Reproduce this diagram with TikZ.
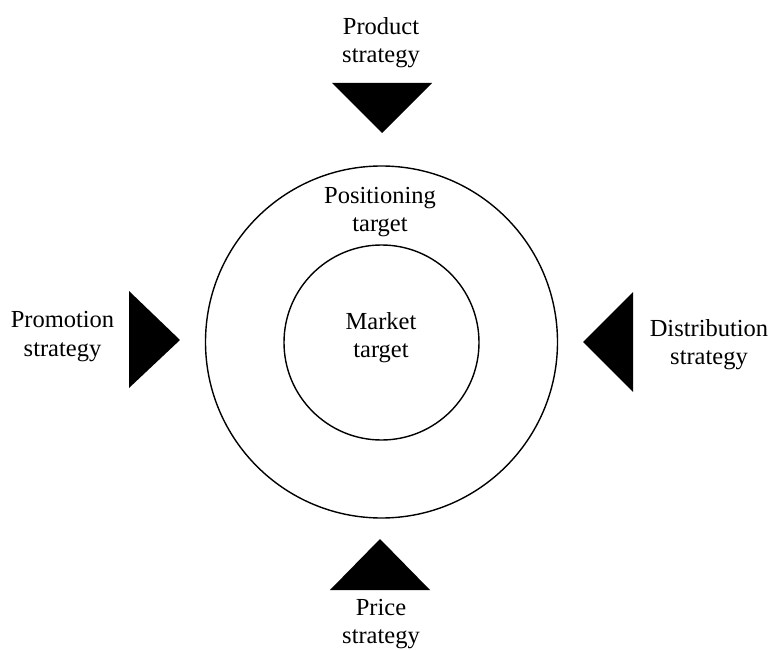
\documentclass[tikz,border=0pt]{standalone}
\usepackage{fontspec}
\setmainfont{Liberation Serif}
\begin{document}
\begin{tikzpicture}[x=1pt,y=-1pt,
  lbl/.style={font=\fontsize{24.5}{28.5}\selectfont, inner sep=0pt, anchor=base},
  ring/.style={draw=black, line width=1.4pt},
  wedge/.style={fill=black, draw=none}]
\useasboundingbox (0,0) rectangle (772,650);
% circles
\draw[ring] (381.5,342) circle[radius=176];
\draw[ring] (381.5,342.5) circle[radius=97.5];
% triangles
\fill[wedge] (332,83) -- (432,83) -- (382,133) -- cycle;
\fill[wedge] (129,291) -- (129,388) -- (180,340) -- cycle;
\fill[wedge] (633,292) -- (633,392) -- (583,342) -- cycle;
\fill[wedge] (330,590) -- (430,590) -- (380,539) -- cycle;
% labels
\node[lbl] (prodA) at (381,35) {Product};
\node[lbl] (prodB) at (381,63) {strategy};
\node[lbl] (posA) at (380,204) {Positioning};
\node[lbl] (posB) at (380,232) {target};
\node[lbl] (mktA) at (381,329) {Market};
\node[lbl] (mktB) at (381,357) {target};
\node[lbl] (promA) at (62.5,327) {Promotion};
\node[lbl] (promB) at (62.5,356) {strategy};
\node[lbl] (distA) at (709,336) {Distribution};
\node[lbl] (distB) at (709,364) {strategy};
\node[lbl] (priceA) at (381,615.5) {Price};
\node[lbl] (priceB) at (381,643.5) {strategy};
\end{tikzpicture}
\end{document}
